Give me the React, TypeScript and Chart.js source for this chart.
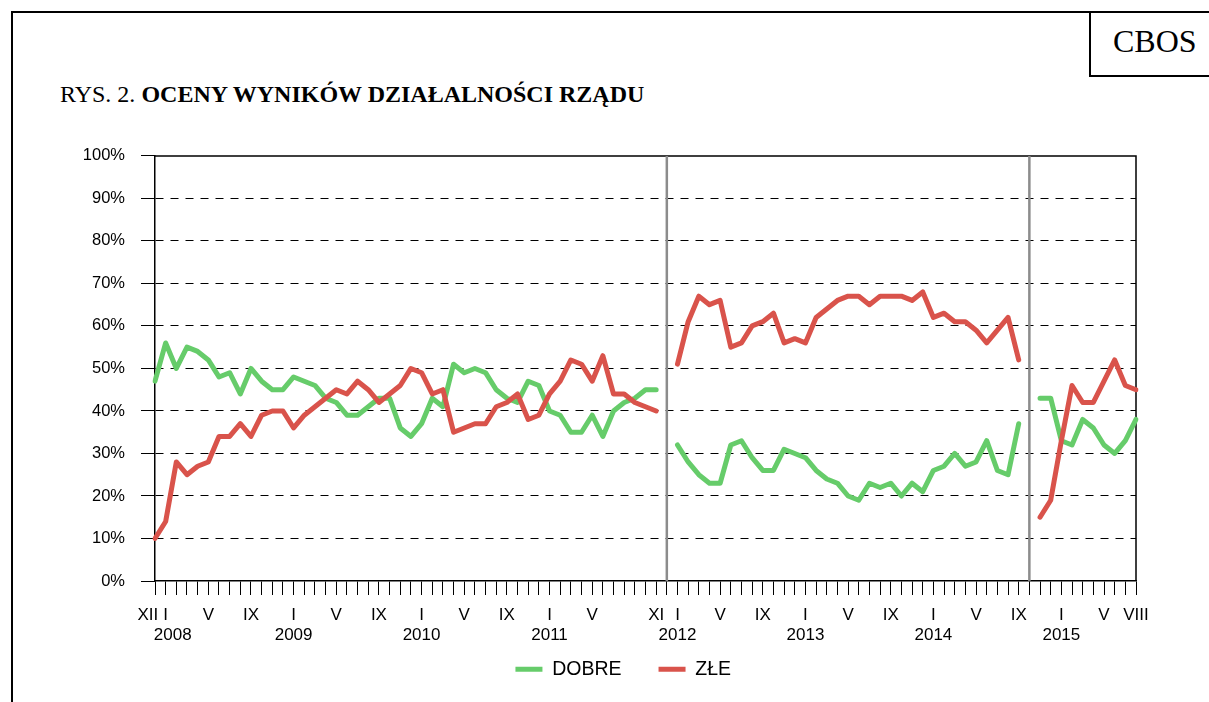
import React, { useEffect, useRef } from 'react';
import { Chart, registerables } from 'chart.js';

Chart.register(...registerables);

// ---- categories (monthly, XII 2007 – VIII 2015) ----
const ROMAN = ['I', 'II', 'III', 'IV', 'V', 'VI', 'VII', 'VIII', 'IX', 'X', 'XI', 'XII'];
const CATEGORIES: string[] = [];
for (let i = 0; i < 93; i++) {
  const m = (11 + i) % 12;
  const y = 2007 + Math.floor((11 + i) / 12);
  CATEGORIES.push(`${ROMAN[m]} ${y}`);
}

// tick labels shown under the axis
const SHOWN_TICKS = [
  'XII 2007', 'I 2008', 'V 2008', 'IX 2008', 'I 2009', 'V 2009', 'IX 2009',
  'I 2010', 'V 2010', 'IX 2010', 'I 2011', 'V 2011', 'XI 2011',
  'I 2012', 'V 2012', 'IX 2012', 'I 2013', 'V 2013', 'IX 2013',
  'I 2014', 'V 2014', 'IX 2014', 'I 2015', 'V 2015', 'VIII 2015',
];
const YEAR_LABELS = ['2008', '2009', '2010', '2011', '2012', '2013', '2014', '2015'];

// months without a plotted survey, marked by a vertical separator
const SEPARATORS = ['XII 2011', 'X 2014'];

// ---- series (%) ----
const DOBRE: (number | null)[] = [
  47, 56, 50, 55, 54, 52, 48, 49, 44, 50, 47, 45,
  45, 48, 47, 46, 43, 42, 39, 39, 41, 43, 43, 36,
  34, 37, 43, 41, 51, 49, 50, 49, 45, 43, 42, 47,
  46, 40, 39, 35, 35, 39, 34, 40, 42, 43, 45, 45,
  null,
  32, 28, 25, 23, 23, 32, 33, 29, 26, 26, 31, 30, 29, 26, 24, 23, 20, 19,
  23, 22, 23, 20, 23, 21, 26, 27, 30, 27, 28, 33, 26, 25, 37,
  null,
  43, 43, 33, 32, 38, 36, 32, 30, 33, 38,
];
const ZLE: (number | null)[] = [
  10, 14, 28, 25, 27, 28, 34, 34, 37, 34, 39, 40,
  40, 36, 39, 41, 43, 45, 44, 47, 45, 42, 44, 46,
  50, 49, 44, 45, 35, 36, 37, 37, 41, 42, 44, 38,
  39, 44, 47, 52, 51, 47, 53, 44, 44, 42, 41, 40,
  null,
  51, 61, 67, 65, 66, 55, 56, 60, 61, 63, 56, 57, 56, 62, 64, 66, 67, 67,
  65, 67, 67, 67, 66, 68, 62, 63, 61, 61, 59, 56, 59, 62, 52,
  null,
  15, 19, 33, 46, 42, 42, 47, 52, 46, 45,
];

const Y_TICKS = [0, 10, 20, 30, 40, 50, 60, 70, 80, 90, 100];

const GREEN = '#66CC6A';
const RED = '#D9534B';
const SANS = '"Liberation Sans", Arial, sans-serif';
const SERIF = '"Liberation Serif", "Times New Roman", serif';

export default function App() {
  const ref = useRef<HTMLCanvasElement>(null);

  useEffect(() => {
    if (!ref.current) return;

    const framePlugin = {
      id: 'frameAndSeparators',
      afterLayout(chart: any) {
        // place the legend row just under the axis labels, centred like the original
        const lg = chart.legend;
        const a = chart.chartArea;
        if (!lg || !a) return;
        const h = lg.height;
        lg.left = a.left - 44.5;
        lg.right = a.right;
        lg.width = lg.right - lg.left;
        lg.top = a.bottom + 41.5;
        lg.bottom = lg.top + h;
      },
      beforeDatasetsDraw(chart: any) {
        const { ctx, chartArea: a, scales } = chart;
        const x = scales.x;
        ctx.save();
        ctx.strokeStyle = '#000';
        ctx.lineWidth = 1.5;
        ctx.beginPath();
        ctx.moveTo(a.left, a.top);
        ctx.lineTo(a.right, a.top);
        ctx.lineTo(a.right, a.bottom);
        ctx.stroke();
        ctx.strokeStyle = '#8c8c8c';
        ctx.lineWidth = 2.5;
        SEPARATORS.forEach((s) => {
          const px = x.getPixelForValue(CATEGORIES.indexOf(s));
          ctx.beginPath();
          ctx.moveTo(px, a.top);
          ctx.lineTo(px, a.bottom);
          ctx.stroke();
        });
        ctx.restore();
      },
    };

    const chart = new Chart(ref.current, {
      type: 'line',
      data: {
        labels: CATEGORIES,
        datasets: [
          {
            label: 'DOBRE',
            data: DOBRE,
            borderColor: GREEN,
            backgroundColor: GREEN,
            borderWidth: 5,
            pointRadius: 0,
            tension: 0,
            spanGaps: false,
            borderCapStyle: 'round',
            borderJoinStyle: 'round',
            order: 1,
          },
          {
            label: 'ZŁE',
            data: ZLE,
            borderColor: RED,
            backgroundColor: RED,
            borderWidth: 5,
            pointRadius: 0,
            tension: 0,
            spanGaps: false,
            borderCapStyle: 'round',
            borderJoinStyle: 'round',
            order: 0,
          },
        ],
      },
      options: {
        responsive: false,
        animation: false,
        events: [],
        layout: { padding: { left: 80, right: 73, top: 25, bottom: 0.5 } },
        plugins: {
          tooltip: { enabled: false },
          title: { display: false },
          legend: {
            display: true,
            position: 'bottom',
            align: 'center',
            labels: {
              usePointStyle: true,
              pointStyle: 'line',
              pointStyleWidth: 27,
              padding: 37,
              color: '#000',
              font: { family: SANS, size: 19.5 },
              sort: (a: any, b: any) => a.datasetIndex - b.datasetIndex,
            },
          },
        },
        scales: {
          x: {
            type: 'category',
            offset: false,
            afterFit: (s: any) => {
              s.height = 64;
            },
            border: { display: true, color: '#000', width: 1.5 },
            grid: {
              drawOnChartArea: false,
              drawTicks: true,
              tickLength: 14,
              tickColor: '#000',
              tickWidth: 1,
            },
            ticks: {
              autoSkip: false,
              maxRotation: 0,
              minRotation: 0,
              padding: 10,
              color: '#000',
              font: { family: SANS, size: 17 },
              callback: (_v: any, index: number) => {
                const cat = CATEGORIES[index];
                if (!SHOWN_TICKS.includes(cat)) return '';
                const [roman, year] = cat.split(' ');
                if (roman === 'XII' && year === '2007') return 'XII\u00a0\u00a0\u00a0';
                if (roman === 'I' && YEAR_LABELS.includes(year)) {
                  return [roman, year === '2008' ? '\u00a0\u00a0\u00a0' + year : year];
                }
                return roman;
              },
            },
          },
          y: {
            min: 0,
            max: 100,
            afterFit: (s: any) => {
              s.width = 75;
            },
            afterBuildTicks: (s: any) => {
              s.ticks = Y_TICKS.map((v) => ({ value: v }));
            },
            border: { display: true, color: '#000', width: 1.5, dash: [8, 7] },
            grid: {
              color: (c: any) =>
                c.tick && (c.tick.value === 0 || c.tick.value === 100) ? 'rgba(0,0,0,0)' : '#000',
              lineWidth: 1,
              drawTicks: true,
              tickLength: 14,
              tickColor: '#000',
              tickWidth: 1,
              tickBorderDash: [],
            },
            ticks: {
              padding: 16,
              color: '#000',
              font: { family: SANS, size: 16.5 },
              callback: (v: any) => `${v}%`,
            },
          },
        },
      },
      plugins: [framePlugin],
    });

    return () => chart.destroy();
  }, []);

  return (
    <div
      style={{
        position: 'absolute',
        left: 0,
        top: 0,
        width: 1209,
        height: 702,
        overflow: 'hidden',
        background: '#fff',
      }}
    >
      <div
        style={{
          position: 'absolute',
          left: 11,
          top: 11,
          width: 1400,
          height: 900,
          border: '2px solid #000',
        }}
      />
      <div
        style={{
          position: 'absolute',
          left: 1089,
          top: 11,
          width: 200,
          height: 62,
          border: '2px solid #000',
        }}
      />
      <div
        style={{
          position: 'absolute',
          left: 1113,
          top: 25,
          fontFamily: SERIF,
          fontSize: 32,
          lineHeight: 1,
          color: '#000',
          whiteSpace: 'nowrap',
        }}
      >
        CBOS
      </div>
      <div
        style={{
          position: 'absolute',
          left: 60,
          top: 82,
          fontFamily: SERIF,
          fontSize: 24,
          lineHeight: 1,
          color: '#000',
          whiteSpace: 'nowrap',
        }}
      >
        RYS. 2. <b>OCENY WYNIKÓW DZIAŁALNOŚCI RZĄDU</b>
      </div>
      <canvas
        ref={ref}
        width={1209}
        height={582}
        style={{ position: 'absolute', left: 0, top: 130, width: 1209, height: 582 }}
      />
    </div>
  );
}
